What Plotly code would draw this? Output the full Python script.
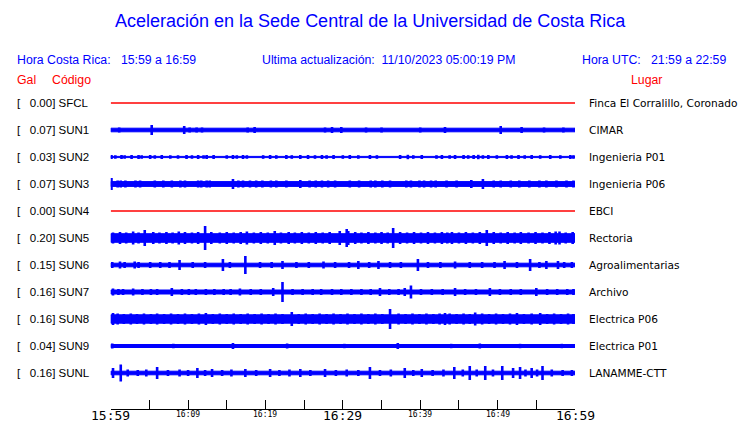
import plotly.graph_objects as go

# ---------------- data ----------------
codes = ["SFCL", "SUN1", "SUN2", "SUN3", "SUN4", "SUN5", "SUN6", "SUN7", "SUN8", "SUN9", "SUNL"]
gal = [0.00, 0.07, 0.03, 0.07, 0.00, 0.20, 0.15, 0.16, 0.16, 0.04, 0.16]
places = ["Finca El Corralillo, Coronado", "CIMAR", "Ingenieria P01", "Ingenieria P06", "EBCI",
          "Rectoria", "Agroalimentarias", "Archivo", "Electrica P06", "Electrica P01", "LANAMME-CTT"]

# envelope half-height of each trace's background band (display px)
base_amp = [0.0, 1.8, 0.6, 2.4, 0.0, 4.3, 1.8, 2.0, 4.2, 1.5, 1.8]

# bursts: minute after 15:59, envelope half-height (display px)
burst_min = {
    "SUN1": [1.1, 5.3, 9.5, 10.2, 11.1, 11.8, 17.7, 18.6, 27.7, 28.6, 29.8, 33.0, 35.0, 40.0, 43.2, 50.4, 53.1, 56.0, 58.5],
    "SUN2": [0.1, 0.6, 1.4, 1.8, 2.7, 3.6, 4.0, 5.1, 5.7, 6.6, 7.7, 8.7, 9.8, 10.5, 11.3, 12.0, 12.4, 13.3,
             15.0, 15.8, 16.3, 17.1, 17.6, 19.7, 20.6, 21.4, 22.7, 23.4, 24.5, 25.5, 26.4, 27.3, 27.9, 28.8,
             30.0, 30.9, 32.0, 33.5, 34.4, 37.4, 38.4, 39.1, 40.2, 42.1, 42.8, 43.8, 44.5, 45.6, 46.2, 46.9,
             47.5, 48.1, 48.8, 49.9, 51.2, 51.8, 52.7, 53.5, 54.4, 55.5, 56.8, 58.1, 59.4, 59.8],
    "SUN3": [0.1, 0.9, 1.3, 1.9, 3.2, 3.8, 5.7, 6.8, 7.9, 9.0, 9.6, 11.3, 11.7, 12.4, 12.8, 15.8, 16.5, 17.1,
             18.0, 18.8, 19.6, 20.7, 21.4, 22.7, 24.5, 25.7, 26.5, 27.3, 28.1, 29.0, 30.9, 32.1, 33.6, 34.2,
             35.1, 36.1, 38.2, 38.8, 39.9, 40.5, 41.4, 42.0, 43.4, 44.7, 46.6, 48.1, 49.5, 50.4, 51.7,
             52.8, 54.1, 55.4, 56.3, 57.6, 58.9, 59.8],
    "SUN5": [0.3, 1.2, 2.0, 2.9, 3.6, 4.4, 5.5, 6.3, 7.2, 8.0, 8.8, 9.6, 10.5, 11.3, 12.2, 13.0, 14.1, 15.0,
             15.9, 16.8, 17.6, 18.5, 19.4, 20.3, 21.2, 22.0, 23.0, 23.8, 24.7, 25.6, 26.5, 27.4, 28.3, 29.6,
             30.5, 30.7, 31.6, 32.4, 33.3, 34.2, 35.0, 35.8, 36.5, 37.4, 38.3, 39.2, 40.1, 41.0, 41.9, 42.8,
             43.5, 44.1, 45.0, 45.9, 46.8, 47.7, 48.6, 49.5, 50.4, 51.3, 52.2, 53.0, 54.0, 54.9, 55.8, 56.7,
             57.5, 58.0, 58.8, 59.7],
    "SUN6": [0.2, 1.2, 1.8, 3.1, 3.6, 5.1, 6.4, 7.6, 8.9, 10.6, 12.2, 14.5, 15.4, 17.4, 19.3, 20.8, 22.2,
             24.0, 25.6, 27.5, 29.0, 30.8, 32.0, 33.4, 34.6, 36.1, 37.5, 39.7, 41.0, 42.6, 44.5, 46.4, 48.0,
             49.6, 50.9, 52.5, 54.2, 55.4, 56.3, 57.8, 58.6, 59.6],
    "SUN7": [0.3, 1.0, 1.6, 2.9, 4.1, 5.2, 6.0, 7.9, 9.2, 10.1, 11.0, 12.3, 13.4, 14.6, 15.5, 16.7, 18.1,
             19.4, 21.0, 22.2, 23.5, 24.8, 26.1, 27.2, 28.6, 29.8, 31.1, 32.4, 33.6, 34.8, 36.0, 37.2, 38.0,
             38.8, 40.1, 41.5, 42.9, 44.5, 45.8, 47.2, 49.0, 50.3, 51.7, 53.0, 55.0, 56.4, 57.7, 59.0, 59.8],
    "SUN8": [0.3, 0.9, 1.7, 2.6, 3.4, 4.3, 5.2, 6.0, 6.9, 7.8, 8.7, 9.6, 10.5, 11.4, 12.3, 13.2, 14.1, 15.0,
             15.9, 16.8, 17.7, 18.6, 19.5, 20.4, 21.3, 22.2, 23.4, 24.3, 25.2, 26.1, 27.0, 27.9, 28.8, 29.7,
             30.6, 31.5, 32.4, 33.3, 34.2, 35.1, 36.1, 37.2, 38.1, 39.0, 39.9, 40.8, 41.7, 42.5, 43.2, 43.8,
             44.7, 45.6, 46.4, 47.1, 48.0, 48.9, 49.8, 50.7, 51.6, 52.5, 53.4, 54.4, 55.5, 56.4, 57.3, 58.2,
             59.1, 59.8],
    "SUN9": [0.2, 8.1, 15.8, 22.8, 30.2, 37.1, 44.0, 47.7, 52.9, 58.3],
    "SUNL": [0.3, 1.3, 2.2, 3.5, 4.6, 6.0, 7.4, 8.9, 10.0, 11.2, 12.2, 13.1, 14.4, 15.6, 17.4, 18.8, 20.6,
             21.8, 23.1, 24.5, 25.8, 27.7, 29.1, 30.5, 32.0, 33.5, 34.8, 36.2, 38.0, 39.1, 40.2, 41.6, 43.0,
             44.4, 45.5, 46.4, 47.3, 48.4, 49.4, 50.6, 52.0, 52.9, 53.6, 54.4, 55.1, 55.8, 57.0, 58.4, 59.6],
}
burst_amp = {
    "SUN1": [2.5, 5.0, 4.0, 2.5, 2.5, 2.5, 2.5, 3.0, 2.5, 3.0, 3.0, 2.5, 2.5, 2.5, 3.0, 4.0, 3.0, 2.5, 2.5],
    "SUN2": [2.0, 1.8, 2.0, 1.8, 2.0, 2.0, 1.8, 2.0, 1.8, 2.0, 1.8, 1.8, 2.0, 1.8, 2.0, 1.8, 2.0, 2.0,
             1.8, 2.0, 1.8, 2.0, 1.8, 1.8, 2.0, 1.8, 2.0, 1.8, 2.0, 2.0, 1.8, 2.0, 1.8, 2.0,
             1.8, 2.0, 1.8, 2.0, 1.8, 2.0, 2.2, 1.8, 2.0, 1.8, 2.0, 1.8, 2.0, 2.0, 1.8, 2.0,
             2.2, 1.8, 2.0, 1.8, 2.0, 1.8, 2.0, 1.8, 2.0, 1.8, 2.0, 1.8, 2.0, 1.8],
    "SUN3": [6.0, 3.5, 3.5, 3.5, 3.5, 3.5, 3.5, 3.5, 3.5, 3.5, 3.5, 3.5, 3.5, 3.5, 3.5, 5.0, 3.5, 3.5,
             3.5, 3.5, 3.5, 3.5, 3.5, 3.5, 4.0, 3.5, 3.5, 3.5, 3.5, 3.5, 3.5, 3.5, 3.5, 3.5,
             3.5, 3.5, 3.5, 3.5, 3.5, 3.5, 3.5, 3.5, 3.5, 3.5, 4.0, 5.0, 3.5, 3.5, 3.5,
             3.5, 3.5, 3.5, 3.5, 3.5, 3.5, 3.5],
    "SUN5": [5.5, 6.0, 5.5, 6.5, 5.5, 8.0, 6.0, 5.5, 6.0, 5.5, 6.5, 6.0, 5.5, 6.0, 12.0, 6.0, 5.5, 6.0,
             5.5, 6.0, 6.5, 5.5, 6.0, 5.5, 7.0, 5.5, 6.0, 5.5, 6.0, 5.5, 6.0, 5.5, 6.0, 7.0,
             9.0, 7.0, 6.0, 5.5, 6.0, 5.5, 6.0, 5.5, 10.0, 6.0, 5.5, 6.0, 5.5, 6.0, 5.5, 6.0,
             5.5, 6.0, 5.5, 6.0, 5.5, 6.0, 8.0, 6.0, 5.5, 6.0, 5.5, 6.0, 5.5, 6.0, 5.5, 6.0,
             6.5, 6.5, 5.5, 6.0],
    "SUN6": [3.0, 3.5, 3.0, 3.5, 3.0, 3.0, 3.0, 3.0, 5.0, 3.0, 3.0, 6.0, 3.0, 9.0, 3.0, 3.0, 4.0,
             3.0, 3.0, 3.5, 3.0, 3.0, 4.0, 3.0, 4.0, 3.0, 3.0, 6.0, 3.0, 3.0, 3.5, 3.0, 3.0,
             3.0, 4.0, 3.0, 6.0, 3.0, 4.0, 4.0, 3.0, 3.0],
    "SUN7": [3.5, 3.0, 3.0, 3.5, 3.0, 3.0, 3.0, 4.0, 3.0, 3.0, 3.0, 3.0, 3.0, 3.0, 3.0, 3.5, 3.0,
             3.0, 4.0, 10.0, 3.0, 3.0, 3.0, 3.0, 3.0, 3.0, 3.0, 3.0, 3.0, 4.0, 3.0, 3.0, 4.0,
             6.5, 3.0, 3.0, 3.0, 4.0, 3.0, 3.0, 4.0, 3.0, 3.0, 3.0, 4.0, 3.0, 3.0, 3.0, 3.0],
    "SUN8": [6.0, 5.5, 5.0, 5.5, 5.0, 5.5, 5.0, 5.5, 5.0, 5.5, 5.0, 5.5, 5.0, 5.5, 6.0, 5.0, 5.5, 5.0,
             5.5, 5.0, 5.5, 5.0, 5.5, 5.0, 5.5, 5.0, 7.0, 5.0, 5.5, 5.0, 5.5, 5.0, 5.5, 5.0,
             5.5, 5.0, 5.5, 5.0, 5.5, 5.0, 10.0, 5.5, 5.0, 5.5, 5.0, 5.5, 5.0, 5.5, 6.0, 5.5,
             5.0, 5.5, 5.0, 6.5, 5.5, 5.0, 5.5, 5.0, 5.5, 6.0, 5.0, 5.5, 6.0, 5.0, 5.5, 5.0,
             5.5, 5.0],
    "SUN9": [2.5, 2.2, 3.0, 2.5, 2.2, 3.0, 2.2, 2.5, 2.2, 2.2],
    "SUNL": [5.0, 8.5, 3.5, 3.0, 3.5, 6.0, 3.0, 3.5, 3.0, 5.0, 3.0, 4.0, 3.0, 3.5, 4.0, 3.0, 4.0,
             3.0, 3.5, 4.0, 3.0, 4.0, 3.0, 3.5, 3.0, 6.0, 3.0, 3.5, 5.0, 3.0, 4.0, 3.0, 3.5,
             6.0, 3.5, 7.0, 3.5, 7.0, 3.5, 7.0, 5.0, 6.0, 3.5, 5.0, 3.5, 7.0, 3.5, 3.0, 3.0],
}

tick_minutes = [0, 5, 10, 15, 20, 25, 30, 35, 40, 45, 50, 55, 60]
tick_labels = {0: "15:59", 10: "16:09", 20: "16:19", 30: "16:29", 40: "16:39", 50: "16:49", 60: "16:59"}
major_labels = [0, 30, 60]

title_text = "Aceleración en la Sede Central de la Universidad de Costa Rica"
hdr_left = "Hora Costa Rica:   15:59 a 16:59"
hdr_mid = "Ultima actualización:  11/10/2023 05:00:19 PM"
hdr_right = "Hora UTC:   21:59 a 22:59"

# ---------------- layout constants ----------------
W, H = 740, 423
ROW0, ROWSTEP = 103, 27          # px of first row centre and row spacing
X0, X1 = 110.7, 575.0            # px of time axis ends
AXIS_Y = 409
BLUE = "#0000ff"
RED = "#ff0000"

def py(p):  # pixel y -> paper
    return 1 - p / H

def px(p):
    return p / W

fig = go.Figure()

for i, code in enumerate(codes):
    k = 1.0 / ROWSTEP
    if gal[i] == 0.0:
        fig.add_trace(go.Scatter(x=[tick_minutes[0], tick_minutes[-1]], y=[i, i], mode="lines",
                                 line=dict(color=RED, width=1.3), hoverinfo="skip", showlegend=False))
        continue
    b = base_amp[i] * k
    fig.add_trace(go.Scatter(x=[0, 60, 60, 0, 0], y=[i - b, i - b, i + b, i + b, i - b],
                             mode="lines", fill="toself", fillcolor=BLUE,
                             line=dict(color=BLUE, width=1), hoverinfo="skip", showlegend=False))
    xs, ys = [], []
    for t, a in zip(burst_min[code], burst_amp[code]):
        xs += [t, t, None]
        ys += [i - a * k, i + a * k, None]
    fig.add_trace(go.Scatter(x=xs, y=ys, mode="lines", line=dict(color=BLUE, width=2.6),
                             hoverinfo="skip", showlegend=False))

ann = []
def text(x, y, s, color="black", size=11, family="Liberation Sans, Arial", anchor="left", xref="paper"):
    ann.append(dict(x=x, y=y, xref=xref, yref="paper", text=s, showarrow=False, xanchor=anchor,
                    yanchor="middle", font=dict(color=color, size=size, family=family)))

text(0.5, py(21), title_text, BLUE, 18, anchor="center")
text(px(15), py(60), hdr_left, BLUE, 12.3)
text(px(260), py(60), hdr_mid, BLUE, 12.3)
text(px(580), py(60), hdr_right, BLUE, 12.3)
text(px(15), py(80), "Gal", RED, 12.3)
text(px(50), py(80), "Código", RED, 12.3)
text(px(629), py(80), "Lugar", RED, 12.3)

for i, code in enumerate(codes):
    yy = py(ROW0 + ROWSTEP * i)
    text(px(15), yy, f"[   {gal[i]:.2f}] {code}", "black", 11.5)
    text(px(587), yy, places[i], "black", 10.6, family="DejaVu Sans")

for m, lab in tick_labels.items():
    if m in major_labels:
        text(m, py(415.5), lab, "black", 13, family="DejaVu Sans Mono", anchor="center", xref="x")
    else:
        text(m, py(414.5), lab, "black", 8, family="DejaVu Sans Mono", anchor="center", xref="x")

fig.update_layout(
    width=W, height=H, margin=dict(l=0, r=0, t=0, b=0),
    paper_bgcolor="white", plot_bgcolor="white",
    annotations=ann,
    xaxis=dict(range=[0, 60], domain=[px(X0), px(X1)], anchor="free", position=py(AXIS_Y),
               showgrid=False, zeroline=False, showline=True, linecolor="black", linewidth=1,
               ticks="inside", ticklen=9, tickcolor="black", tickvals=tick_minutes,
               showticklabels=False, fixedrange=True),
    yaxis=dict(range=[(H - ROW0) / ROWSTEP, -ROW0 / ROWSTEP], domain=[0, 1], visible=False,
               showgrid=False, zeroline=False, fixedrange=True),
    showlegend=False,
)

fig.write_html("out.html", config={"displayModeBar": False},
               post_script="document.body.style.margin='0px';document.body.style.overflow='hidden';")
